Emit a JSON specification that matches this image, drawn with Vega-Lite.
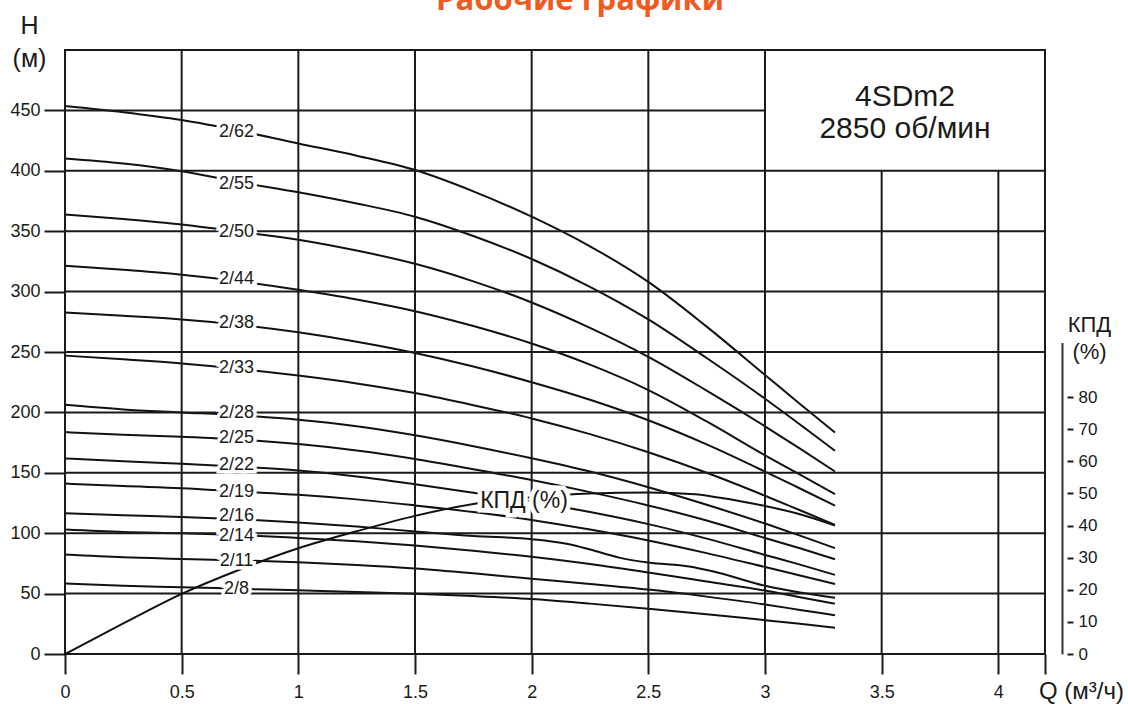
{
 "$schema": "https://vega.github.io/schema/vega-lite/v6.json",
 "width": 980,
 "height": 604,
 "autosize": {"type": "none"},
 "padding": {"left": 65, "top": 50, "right": 83, "bottom": 50},
 "background": "white",
 "view": {"stroke": "#1a1a1a", "strokeWidth": 2},
 "config": {
  "font": "Liberation Sans",
  "axisX": {"domain": false, "grid": false, "ticks": true, "tickSize": 20, "tickWidth": 2, "tickColor": "#1a1a1a",
   "labelFontSize": 18, "labelColor": "#1a1a1a", "labelPadding": 9, "labelFlush": false, "labelOverlap": false,
   "titleFontSize": 24, "titleFontWeight": "normal", "titleColor": "#1a1a1a",
   "titleX": 1016, "titleY": 44, "titleAlign": "center", "titleBaseline": "alphabetic"}
 },
 "title": {"text": "Рабочие графики", "font": "Open Sans", "fontSize": 31, "fontWeight": "bold", "color": "#f05a1e", "anchor": "middle", "frame": "group", "offset": 0, "baseline": "alphabetic", "dx": 25, "dy": 28},
 "datasets": {
  "grid": [
   {"x": 0.5, "x2": 0.5, "y": 0, "y2": 500}, {"x": 1, "x2": 1, "y": 0, "y2": 500}, {"x": 1.5, "x2": 1.5, "y": 0, "y2": 500},
   {"x": 2, "x2": 2, "y": 0, "y2": 500}, {"x": 2.5, "x2": 2.5, "y": 0, "y2": 500}, {"x": 3, "x2": 3, "y": 0, "y2": 500},
   {"x": 3.5, "x2": 3.5, "y": 0, "y2": 400}, {"x": 4, "x2": 4, "y": 0, "y2": 400},
   {"x": 0, "x2": 4.2, "y": 50, "y2": 50}, {"x": 0, "x2": 4.2, "y": 100, "y2": 100}, {"x": 0, "x2": 4.2, "y": 150, "y2": 150},
   {"x": 0, "x2": 4.2, "y": 200, "y2": 200}, {"x": 0, "x2": 4.2, "y": 250, "y2": 250}, {"x": 0, "x2": 4.2, "y": 300, "y2": 300},
   {"x": 0, "x2": 4.2, "y": 350, "y2": 350}, {"x": 0, "x2": 4.2, "y": 400, "y2": 400}, {"x": 0, "x2": 3, "y": 450, "y2": 450}
  ],
  "curves": [
   {"p":"2/62","q":0,"h":453.6},{"p":"2/62","q":0.25,"h":448.5},{"p":"2/62","q":0.5,"h":442},{"p":"2/62","q":0.75,"h":433},{"p":"2/62","q":1,"h":422.6},{"p":"2/62","q":1.25,"h":412.5},{"p":"2/62","q":1.5,"h":400.6},{"p":"2/62","q":1.75,"h":383},{"p":"2/62","q":2,"h":362},{"p":"2/62","q":2.25,"h":337.5},{"p":"2/62","q":2.5,"h":308},{"p":"2/62","q":2.75,"h":271},{"p":"2/62","q":3,"h":231},{"p":"2/62","q":3.15,"h":207},{"p":"2/62","q":3.3,"h":183.4},
   {"p":"2/55","q":0,"h":410.2},{"p":"2/55","q":0.25,"h":406},{"p":"2/55","q":0.5,"h":399.7},{"p":"2/55","q":0.75,"h":390.5},{"p":"2/55","q":1,"h":382.3},{"p":"2/55","q":1.25,"h":373},{"p":"2/55","q":1.5,"h":362},{"p":"2/55","q":1.75,"h":346},{"p":"2/55","q":2,"h":327},{"p":"2/55","q":2.25,"h":304},{"p":"2/55","q":2.5,"h":277},{"p":"2/55","q":2.75,"h":245},{"p":"2/55","q":3,"h":211.3},{"p":"2/55","q":3.15,"h":190},{"p":"2/55","q":3.3,"h":168.2},
   {"p":"2/50","q":0,"h":363.8},{"p":"2/50","q":0.25,"h":360},{"p":"2/50","q":0.5,"h":355.5},{"p":"2/50","q":0.75,"h":349.5},{"p":"2/50","q":1,"h":343},{"p":"2/50","q":1.25,"h":334},{"p":"2/50","q":1.5,"h":323},{"p":"2/50","q":1.75,"h":308.5},{"p":"2/50","q":2,"h":291},{"p":"2/50","q":2.25,"h":270},{"p":"2/50","q":2.5,"h":246},{"p":"2/50","q":2.75,"h":218},{"p":"2/50","q":3,"h":188.5},{"p":"2/50","q":3.15,"h":170},{"p":"2/50","q":3.3,"h":151.1},
   {"p":"2/44","q":0,"h":321.5},{"p":"2/44","q":0.25,"h":318},{"p":"2/44","q":0.5,"h":314},{"p":"2/44","q":0.75,"h":308.5},{"p":"2/44","q":1,"h":301.5},{"p":"2/44","q":1.25,"h":293.5},{"p":"2/44","q":1.5,"h":283.8},{"p":"2/44","q":1.75,"h":271.5},{"p":"2/44","q":2,"h":257},{"p":"2/44","q":2.25,"h":239.5},{"p":"2/44","q":2.5,"h":218.5},{"p":"2/44","q":2.75,"h":192.5},{"p":"2/44","q":3,"h":164.5},{"p":"2/44","q":3.15,"h":148.5},{"p":"2/44","q":3.3,"h":132.3},
   {"p":"2/38","q":0,"h":282.6},{"p":"2/38","q":0.25,"h":280},{"p":"2/38","q":0.5,"h":277},{"p":"2/38","q":0.75,"h":272.5},{"p":"2/38","q":1,"h":266.3},{"p":"2/38","q":1.25,"h":258.5},{"p":"2/38","q":1.5,"h":249.2},{"p":"2/38","q":1.75,"h":238},{"p":"2/38","q":2,"h":225},{"p":"2/38","q":2.25,"h":210.5},{"p":"2/38","q":2.5,"h":193.5},{"p":"2/38","q":2.75,"h":173.5},{"p":"2/38","q":3,"h":151},{"p":"2/38","q":3.15,"h":137},{"p":"2/38","q":3.3,"h":122.9},
   {"p":"2/33","q":0,"h":247},{"p":"2/33","q":0.25,"h":244},{"p":"2/33","q":0.5,"h":240.5},{"p":"2/33","q":0.75,"h":236},{"p":"2/33","q":1,"h":230.5},{"p":"2/33","q":1.25,"h":224},{"p":"2/33","q":1.5,"h":216},{"p":"2/33","q":1.75,"h":206},{"p":"2/33","q":2,"h":195},{"p":"2/33","q":2.25,"h":182},{"p":"2/33","q":2.5,"h":167},{"p":"2/33","q":2.75,"h":150},{"p":"2/33","q":3,"h":131},{"p":"2/33","q":3.15,"h":119},{"p":"2/33","q":3.3,"h":106.9},
   {"p":"2/28","q":0,"h":206.3},{"p":"2/28","q":0.25,"h":202.5},{"p":"2/28","q":0.5,"h":200},{"p":"2/28","q":0.75,"h":197.5},{"p":"2/28","q":1,"h":193.9},{"p":"2/28","q":1.25,"h":188.5},{"p":"2/28","q":1.5,"h":181},{"p":"2/28","q":1.75,"h":172},{"p":"2/28","q":2,"h":162},{"p":"2/28","q":2.25,"h":151},{"p":"2/28","q":2.5,"h":138},{"p":"2/28","q":2.75,"h":123.5},{"p":"2/28","q":3,"h":108},{"p":"2/28","q":3.15,"h":98},{"p":"2/28","q":3.3,"h":87.6},
   {"p":"2/25","q":0,"h":183.7},{"p":"2/25","q":0.25,"h":181.5},{"p":"2/25","q":0.5,"h":179.8},{"p":"2/25","q":0.75,"h":177.5},{"p":"2/25","q":1,"h":173.8},{"p":"2/25","q":1.25,"h":168.5},{"p":"2/25","q":1.5,"h":161.5},{"p":"2/25","q":1.75,"h":153},{"p":"2/25","q":2,"h":144},{"p":"2/25","q":2.25,"h":134},{"p":"2/25","q":2.5,"h":123},{"p":"2/25","q":2.75,"h":110.5},{"p":"2/25","q":3,"h":96},{"p":"2/25","q":3.15,"h":87.5},{"p":"2/25","q":3.3,"h":78.5},
   {"p":"2/22","q":0,"h":161.9},{"p":"2/22","q":0.25,"h":159.5},{"p":"2/22","q":0.5,"h":157.5},{"p":"2/22","q":0.75,"h":155},{"p":"2/22","q":1,"h":151.9},{"p":"2/22","q":1.25,"h":147},{"p":"2/22","q":1.5,"h":140.5},{"p":"2/22","q":1.75,"h":133.5},{"p":"2/22","q":2,"h":126},{"p":"2/22","q":2.25,"h":117.5},{"p":"2/22","q":2.5,"h":107.5},{"p":"2/22","q":2.75,"h":95.5},{"p":"2/22","q":3,"h":82},{"p":"2/22","q":3.15,"h":74},{"p":"2/22","q":3.3,"h":65.5},
   {"p":"2/19","q":0,"h":141.1},{"p":"2/19","q":0.25,"h":139},{"p":"2/19","q":0.5,"h":137.3},{"p":"2/19","q":0.75,"h":134.5},{"p":"2/19","q":1,"h":131.8},{"p":"2/19","q":1.25,"h":128},{"p":"2/19","q":1.5,"h":123},{"p":"2/19","q":1.75,"h":117.5},{"p":"2/19","q":2,"h":111},{"p":"2/19","q":2.25,"h":103},{"p":"2/19","q":2.5,"h":94},{"p":"2/19","q":2.75,"h":83.5},{"p":"2/19","q":3,"h":72},{"p":"2/19","q":3.15,"h":65},{"p":"2/19","q":3.3,"h":58},
   {"p":"2/16","q":0,"h":116.6},{"p":"2/16","q":0.25,"h":114.8},{"p":"2/16","q":0.5,"h":113.5},{"p":"2/16","q":0.75,"h":111.5},{"p":"2/16","q":1,"h":108.8},{"p":"2/16","q":1.25,"h":105.5},{"p":"2/16","q":1.5,"h":101.5},{"p":"2/16","q":1.75,"h":97.7},{"p":"2/16","q":2,"h":95},{"p":"2/16","q":2.15,"h":91.2},{"p":"2/16","q":2.25,"h":86.5},{"p":"2/16","q":2.375,"h":79.8},{"p":"2/16","q":2.5,"h":75.7},{"p":"2/16","q":2.675,"h":72.4},{"p":"2/16","q":2.775,"h":68.5},{"p":"2/16","q":3,"h":56.5},{"p":"2/16","q":3.15,"h":51},{"p":"2/16","q":3.3,"h":46.5},
   {"p":"2/14","q":0,"h":103},{"p":"2/14","q":0.25,"h":101},{"p":"2/14","q":0.5,"h":100},{"p":"2/14","q":0.75,"h":98.5},{"p":"2/14","q":1,"h":96.1},{"p":"2/14","q":1.25,"h":93.3},{"p":"2/14","q":1.5,"h":89.8},{"p":"2/14","q":1.75,"h":85.5},{"p":"2/14","q":2,"h":80.5},{"p":"2/14","q":2.25,"h":74.5},{"p":"2/14","q":2.5,"h":67.5},{"p":"2/14","q":2.75,"h":60},{"p":"2/14","q":3,"h":52.5},{"p":"2/14","q":3.15,"h":47},{"p":"2/14","q":3.3,"h":41.7},
   {"p":"2/11","q":0,"h":82.3},{"p":"2/11","q":0.25,"h":80},{"p":"2/11","q":0.5,"h":78.7},{"p":"2/11","q":0.75,"h":77.5},{"p":"2/11","q":1,"h":75.9},{"p":"2/11","q":1.25,"h":73.7},{"p":"2/11","q":1.5,"h":70.8},{"p":"2/11","q":1.75,"h":66.8},{"p":"2/11","q":2,"h":62.3},{"p":"2/11","q":2.25,"h":58},{"p":"2/11","q":2.5,"h":53.3},{"p":"2/11","q":2.75,"h":47.5},{"p":"2/11","q":3,"h":41},{"p":"2/11","q":3.15,"h":36.5},{"p":"2/11","q":3.3,"h":32},
   {"p":"2/8","q":0,"h":58.3},{"p":"2/8","q":0.25,"h":56.5},{"p":"2/8","q":0.5,"h":55.3},{"p":"2/8","q":0.75,"h":54},{"p":"2/8","q":1,"h":52.7},{"p":"2/8","q":1.25,"h":51.4},{"p":"2/8","q":1.5,"h":49.9},{"p":"2/8","q":1.75,"h":48},{"p":"2/8","q":2,"h":45.5},{"p":"2/8","q":2.25,"h":41.7},{"p":"2/8","q":2.5,"h":37.5},{"p":"2/8","q":2.75,"h":33},{"p":"2/8","q":3,"h":28},{"p":"2/8","q":3.15,"h":25},{"p":"2/8","q":3.3,"h":21.8}
  ],
  "eff": [
   {"q":0,"e":0},{"q":0.25,"e":9.5},{"q":0.5,"e":18.7},{"q":0.75,"e":26.3},{"q":1,"e":32.9},{"q":1.25,"e":38.2},{"q":1.5,"e":43},{"q":1.75,"e":46.7},{"q":2,"e":48.8},{"q":2.25,"e":50},{"q":2.5,"e":50.3},{"q":2.7,"e":49.7},{"q":2.8,"e":48.7},{"q":2.9,"e":47.5},{"q":3,"e":46.1},{"q":3.15,"e":43.5},{"q":3.3,"e":40}
  ],
  "efflabel": [{"q":1.967,"e":47.5,"t":"КПД (%)"}],
  "labels": [
   {"q":0.735,"h":432.5,"t":"2/62"},{"q":0.735,"h":388.8,"t":"2/55"},{"q":0.735,"h":349.3,"t":"2/50"},{"q":0.735,"h":310.4,"t":"2/44"},
   {"q":0.735,"h":274,"t":"2/38"},{"q":0.735,"h":236.8,"t":"2/33"},{"q":0.735,"h":199.1,"t":"2/28"},{"q":0.735,"h":178.8,"t":"2/25"},
   {"q":0.735,"h":156.7,"t":"2/22"},{"q":0.735,"h":134.4,"t":"2/19"},{"q":0.735,"h":114.6,"t":"2/16"},{"q":0.735,"h":97.8,"t":"2/14"},
   {"q":0.735,"h":77.4,"t":"2/11"},{"q":0.735,"h":53.6,"t":"2/8"}
  ],
  "box": [{"q":3.6,"h":453.6,"t":"4SDm2"},{"q":3.6,"h":427.4,"t":"2850 об/мин"}]
 },
 "layer": [
  {
   "data": {"name": "curves"},
   "mark": {"type": "line", "color": "#111111", "strokeWidth": 2, "interpolate": "monotone"},
   "encoding": {
    "x": {"field": "q", "type": "quantitative", "scale": {"domain": [0, 4.2], "nice": false, "zero": false},
     "axis": {"values": [0, 0.5, 1, 1.5, 2, 2.5, 3, 3.5, 4, 4.2], "format": "~g", "labelExpr": "datum.value > 4.1 ? '' : datum.label", "title": "Q (м³/ч)"}},
    "y": {"field": "h", "type": "quantitative", "scale": {"domain": [0, 500], "nice": false, "zero": false},
     "axis": {"values": [0, 50, 100, 150, 200, 250, 300, 350, 400, 450], "domain": false, "grid": false, "ticks": true,
      "tickSize": 21, "tickWidth": 2, "tickColor": "#1a1a1a", "labelFontSize": 18, "labelColor": "#1a1a1a", "labelPadding": 4,
      "labelFlush": false, "labelOverlap": false,
      "title": ["H", "(м)"], "titleFontSize": 25, "titleFontWeight": "normal", "titleColor": "#1a1a1a", "titleAngle": 0,
      "titleX": -36, "titleY": -17, "titleAlign": "center", "titleBaseline": "alphabetic", "titleLineHeight": 33}},
    "detail": {"field": "p", "type": "nominal"}
   }
  },
  {
   "data": {"name": "grid"},
   "mark": {"type": "rule", "color": "#1a1a1a", "strokeWidth": 2},
   "encoding": {
    "x": {"field": "x", "type": "quantitative", "scale": {"domain": [0, 4.2], "nice": false, "zero": false},
     "axis": {"values": [0, 0.5, 1, 1.5, 2, 2.5, 3, 3.5, 4, 4.2], "format": "~g", "labelExpr": "datum.value > 4.1 ? '' : datum.label", "title": "Q (м³/ч)"}},
    "x2": {"field": "x2"},
    "y": {"field": "y", "type": "quantitative", "scale": {"domain": [0, 500], "nice": false, "zero": false}, "axis": null},
    "y2": {"field": "y2"}
   }
  },
  {
   "data": {"name": "eff"},
   "mark": {"type": "line", "color": "#111111", "strokeWidth": 2, "interpolate": "monotone"},
   "encoding": {
    "x": {"field": "q", "type": "quantitative", "scale": {"domain": [0, 4.2], "nice": false, "zero": false},
     "axis": {"values": [0, 0.5, 1, 1.5, 2, 2.5, 3, 3.5, 4, 4.2], "format": "~g", "labelExpr": "datum.value > 4.1 ? '' : datum.label", "title": "Q (м³/ч)"}},
    "y": {"field": "e", "type": "quantitative", "scale": {"domain": [0, 97], "range": [604, 292.4], "nice": false, "zero": false},
     "axis": {"orient": "right", "offset": 17, "values": [0, 10, 20, 30, 40, 50, 60, 70, 80], "domain": true, "domainColor": "#333333", "domainWidth": 2,
      "grid": false, "ticks": true, "tickSize": 11, "tickWidth": 2, "tickColor": "#1a1a1a", "tickDash": [0, 5, 6, 30],
      "labelFontSize": 17, "labelColor": "#1a1a1a", "labelPadding": 5, "labelFlush": false, "labelOverlap": false,
      "title": ["КПД", "(%)"], "titleFontSize": 22, "titleFontWeight": "normal", "titleColor": "#1a1a1a", "titleAngle": 0,
      "titleX": 27, "titleY": 281, "titleAlign": "center", "titleBaseline": "alphabetic", "titleLineHeight": 27}}
   }
  },
  {
   "data": {"name": "efflabel"},
   "mark": {"type": "text", "fontSize": 23, "stroke": "white", "strokeWidth": 9, "fill": "white", "baseline": "middle", "align": "center"},
   "encoding": {
    "x": {"field": "q", "type": "quantitative", "scale": {"domain": [0, 4.2], "nice": false, "zero": false},
     "axis": {"values": [0, 0.5, 1, 1.5, 2, 2.5, 3, 3.5, 4, 4.2], "format": "~g", "labelExpr": "datum.value > 4.1 ? '' : datum.label", "title": "Q (м³/ч)"}},
    "y": {"field": "e", "type": "quantitative", "scale": {"domain": [0, 97], "range": [604, 292.4], "nice": false, "zero": false}, "axis": null},
    "text": {"field": "t"}
   }
  },
  {
   "data": {"name": "efflabel"},
   "mark": {"type": "text", "fontSize": 23, "fill": "#1a1a1a", "baseline": "middle", "align": "center"},
   "encoding": {
    "x": {"field": "q", "type": "quantitative", "scale": {"domain": [0, 4.2], "nice": false, "zero": false},
     "axis": {"values": [0, 0.5, 1, 1.5, 2, 2.5, 3, 3.5, 4, 4.2], "format": "~g", "labelExpr": "datum.value > 4.1 ? '' : datum.label", "title": "Q (м³/ч)"}},
    "y": {"field": "e", "type": "quantitative", "scale": {"domain": [0, 97], "range": [604, 292.4], "nice": false, "zero": false}, "axis": null},
    "text": {"field": "t"}
   }
  },
  {
   "data": {"name": "labels"},
   "mark": {"type": "text", "fontSize": 18, "stroke": "white", "strokeWidth": 7, "fill": "white", "baseline": "middle", "align": "center"},
   "encoding": {
    "x": {"field": "q", "type": "quantitative", "scale": {"domain": [0, 4.2], "nice": false, "zero": false},
     "axis": {"values": [0, 0.5, 1, 1.5, 2, 2.5, 3, 3.5, 4, 4.2], "format": "~g", "labelExpr": "datum.value > 4.1 ? '' : datum.label", "title": "Q (м³/ч)"}},
    "y": {"field": "h", "type": "quantitative", "scale": {"domain": [0, 500], "nice": false, "zero": false}, "axis": null},
    "text": {"field": "t"}
   }
  },
  {
   "data": {"name": "labels"},
   "mark": {"type": "text", "fontSize": 18, "fill": "#1a1a1a", "baseline": "middle", "align": "center"},
   "encoding": {
    "x": {"field": "q", "type": "quantitative", "scale": {"domain": [0, 4.2], "nice": false, "zero": false},
     "axis": {"values": [0, 0.5, 1, 1.5, 2, 2.5, 3, 3.5, 4, 4.2], "format": "~g", "labelExpr": "datum.value > 4.1 ? '' : datum.label", "title": "Q (м³/ч)"}},
    "y": {"field": "h", "type": "quantitative", "scale": {"domain": [0, 500], "nice": false, "zero": false}, "axis": null},
    "text": {"field": "t"}
   }
  },
  {
   "data": {"name": "box"},
   "mark": {"type": "text", "fontSize": 30, "fill": "#1a1a1a", "baseline": "alphabetic", "align": "center"},
   "encoding": {
    "x": {"field": "q", "type": "quantitative", "scale": {"domain": [0, 4.2], "nice": false, "zero": false},
     "axis": {"values": [0, 0.5, 1, 1.5, 2, 2.5, 3, 3.5, 4, 4.2], "format": "~g", "labelExpr": "datum.value > 4.1 ? '' : datum.label", "title": "Q (м³/ч)"}},
    "y": {"field": "h", "type": "quantitative", "scale": {"domain": [0, 500], "nice": false, "zero": false}, "axis": null},
    "text": {"field": "t"}
   }
  }
 ],
 "resolve": {"scale": {"y": "independent"}}
}
